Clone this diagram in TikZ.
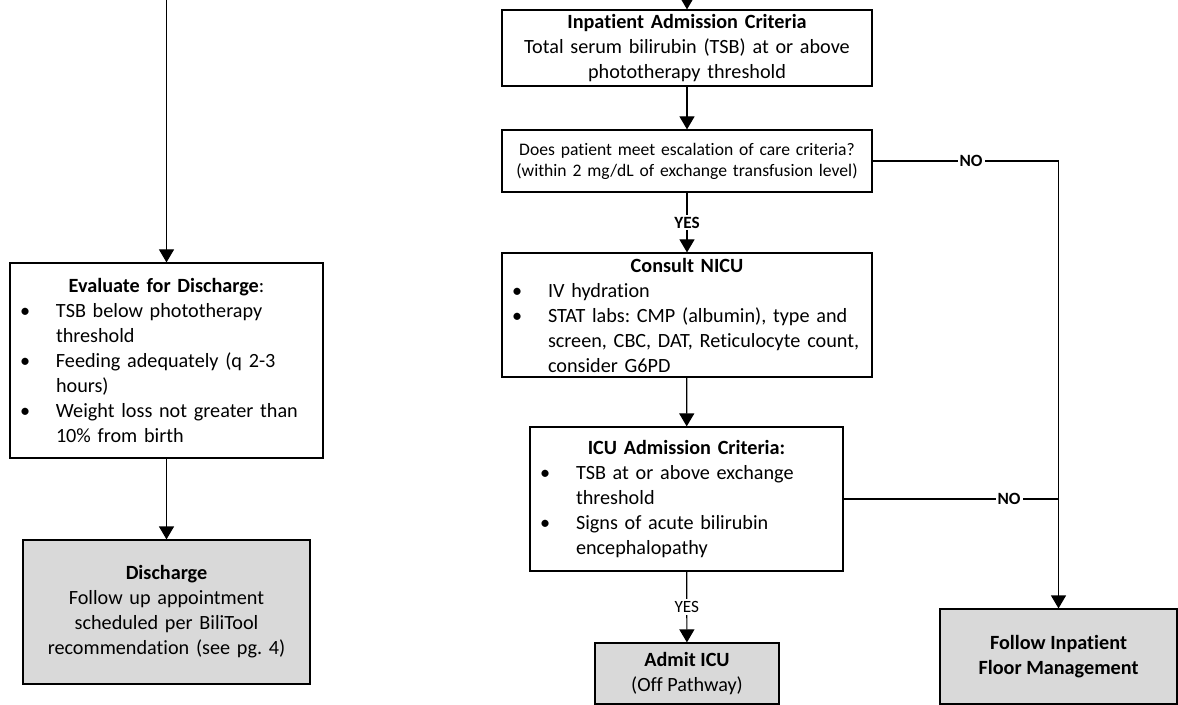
\documentclass[tikz,border=0pt]{standalone}
\usepackage{fontspec}
\setmainfont{Carlito}[Ligatures=NoCommon]
\usetikzlibrary{arrows.meta,calc}
\definecolor{endgray}{RGB}{217,217,217}
\newcommand{\bul}[1]{\par\hangindent=18pt\hangafter=1\leftskip=0pt\rightskip=0pt plus 1fil%
  \noindent\makebox[18pt][l]{\textbullet}#1\par}
\frenchspacing

\begin{document}
\begin{tikzpicture}[x=0.5pt,y=-0.5pt,
    >={Triangle[width=7.5pt,length=6.5pt]},
    every node/.style={font=\fontsize{10.1}{12.5}\selectfont},
    box/.style={draw,line width=0.6pt,inner xsep=5pt,inner ysep=0pt},
    endbox/.style={box,fill=endgray},
    flow/.style={->,line width=0.6pt},
    lab/.style={fill=white,inner sep=1pt,font=\fontsize{8.6}{10}\selectfont\bfseries}]
  \useasboundingbox (0,0) rectangle (1178,705);
  % left column
  \node[box,minimum width=156.5pt,minimum height=97.5pt,text width=146.5pt,align=left]
    (eval) at (166.5,360.5) {\centerline{\textbf{Evaluate for Discharge}:}
    \bul{TSB below phototherapy\break threshold}
    \bul{Feeding adequately (q 2-3\break hours)}
    \bul{Weight loss not greater than\break 10\% from birth}};
  \node[endbox,minimum width=143.5pt,minimum height=72pt,text width=133.5pt,align=center]
    (disch) at (166.5,612) {\textbf{Discharge}\\Follow up appointment\\scheduled per BiliTool\\recommendation (see pg. 4)};
  % middle column
  \node[box,minimum width=185pt,minimum height=38pt,text width=175pt,align=center]
    (inpat) at (687,48) {\textbf{Inpatient Admission Criteria}\\Total serum bilirubin (TSB) at or above\\phototherapy threshold};
  \node[box,minimum width=185pt,minimum height=31pt,text width=175pt,align=center,
    font=\fontsize{8.8}{10.5}\selectfont]
    (escal) at (687,161) {Does patient meet escalation of care criteria?\\(within 2 mg/dL of exchange transfusion level)};
  \node[box,minimum width=185pt,minimum height=62pt,text width=175pt,align=left]
    (consult) at (687,315) {\centerline{\textbf{Consult NICU}}
    \bul{IV hydration}
    \bul{STAT labs: CMP (albumin), type and\break screen, CBC, DAT, Reticulocyte count,\break consider G6PD}};
  \node[box,minimum width=156.5pt,minimum height=72pt,text width=146.5pt,align=left]
    (icu) at (686.5,499) {\centerline{\textbf{ICU Admission Criteria:}}
    \bul{TSB at or above exchange\break threshold}
    \bul{Signs of acute bilirubin\break encephalopathy}};
  \node[endbox,minimum width=92pt,minimum height=30.5pt,align=center]
    (admit) at (687,673.5) {\textbf{Admit ICU}\\(Off Pathway)};
  % right column
  \node[endbox,minimum width=118.5pt,minimum height=47.5pt,align=center]
    (follow) at (1058.5,656.5) {\textbf{Follow Inpatient}\\\textbf{Floor Management}};
  % connectors
  \coordinate (lefttop) at (166.5,0);
  \coordinate (righttop) at (687,0);
  \draw[flow] (lefttop) -- (eval);
  \draw[flow] (eval) -- (disch);
  \draw[flow] (righttop) -- (inpat);
  \draw[flow] (inpat) -- (escal);
  \draw[flow] (escal) -- node[lab]{YES} (consult);
  \draw[flow] (consult) -- (icu);
  \draw[flow] (icu) -- node[lab,font=\fontsize{8.6}{10}\selectfont]{YES} (admit);
  \draw[flow] (escal.east) -- node[lab,pos=0.53]{NO} (escal.east -| follow.north)
    -- (follow.north);
  \draw[line width=0.6pt] (icu.east) -- node[lab,pos=0.77]{NO} (icu.east -| follow.north);
\end{tikzpicture}
\end{document}
